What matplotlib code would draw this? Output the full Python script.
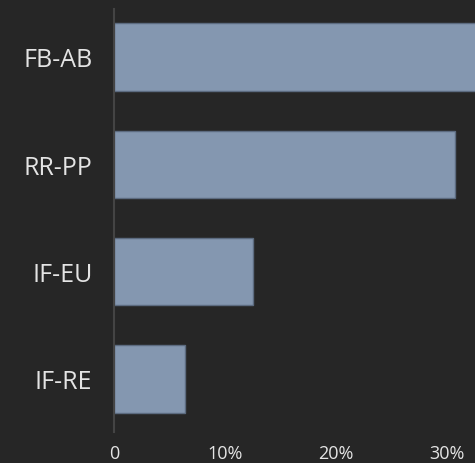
import matplotlib.pyplot as plt
from matplotlib.ticker import FuncFormatter

categories = ["FB-AB", "RR-PP", "IF-EU", "IF-RE"]
values = [33.5, 30.7, 12.5, 6.4]   # percent
xticks = [0, 10, 20, 30]

bg = "#262626"
bar_color = "#8497B0"
text_color = "#E4E4E4"

plt.rcParams["font.family"] = ["Open Sans", "DejaVu Sans"]

fig = plt.figure(figsize=(4.75, 4.64), dpi=100, facecolor=bg)
ax = fig.add_axes([114 / 475, 31 / 464, 1 - 114 / 475, 423 / 464])
ax.set_facecolor(bg)

ypos = list(range(len(categories)))
ax.barh(ypos, values, height=0.63, color=bar_color, edgecolor="#5C6B80", linewidth=1)

ax.set_ylim(3.494, -0.447)
ax.set_xlim(0, 32.5)
ax.set_yticks(ypos)
ax.set_yticklabels(categories)
ax.set_xticks(xticks)
ax.xaxis.set_major_formatter(FuncFormatter(lambda v, p: "0" if v == 0 else f"{v:.0f}%"))

ax.tick_params(axis="y", length=0, pad=15.5, labelsize=18, labelcolor=text_color)
ax.tick_params(axis="x", length=0, pad=9, labelsize=13, labelcolor=text_color)

for s in ["top", "right", "bottom"]:
    ax.spines[s].set_visible(False)
ax.spines["left"].set_color("#444444")
ax.spines["left"].set_linewidth(1.5)

fig.savefig("out.png", dpi=100, facecolor=bg)
